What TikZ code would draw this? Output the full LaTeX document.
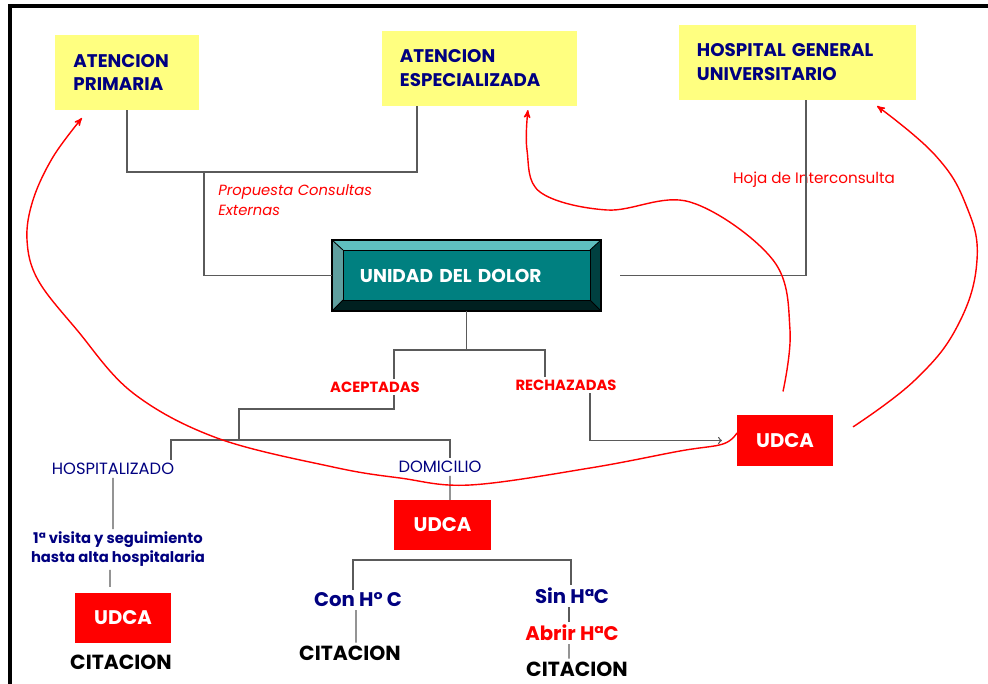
\documentclass[tikz,border=0pt]{standalone}
\usepackage{fontspec}
\setmainfont{Poppins}
\usepackage{tikz}
\usetikzlibrary{arrows}
\usetikzlibrary{backgrounds}

\definecolor{boxyellow}{RGB}{255,255,128}
\definecolor{navy}{RGB}{0,0,128}
\definecolor{udred}{RGB}{255,0,0}
\definecolor{tealface}{RGB}{0,128,128}
\definecolor{tealtop}{RGB}{95,191,191}
\definecolor{tealleft}{RGB}{95,159,159}
\definecolor{tealright}{RGB}{0,64,64}
\definecolor{tealbottom}{RGB}{0,32,32}
\definecolor{linegray}{RGB}{90,90,90}

\begin{document}
\begin{tikzpicture}[x=0.025cm,y=-0.025cm,>=stealth',
		yellow node/.style={fill=boxyellow,text=navy,align=left,inner xsep=0.45cm,
			inner ysep=0pt,minimum height=1.875cm,outer sep=0pt,
			font=\bfseries\fontsize{13}{17}\selectfont},
		dolor node/.style={text=white,align=left,text width=5.325cm,inner xsep=0.7cm,
			minimum height=1.775cm,outer sep=0pt,font=\bfseries\fontsize{13.2}{15}\selectfont},
		udca node/.style={fill=udred,text=white,minimum width=2.4cm,minimum height=1.25cm,
			outer sep=0pt,font=\bfseries\fontsize{14}{16}\selectfont},
		red label/.style={text=udred,inner sep=2pt,font=\bfseries\fontsize{10.5}{12}\selectfont},
		blue label/.style={text=navy,inner sep=2pt,font=\fontsize{11.6}{13}\selectfont},
		blue bold/.style={text=navy,inner sep=2pt,align=center,font=\bfseries\fontsize{14}{16}\selectfont},
		cita label/.style={text=black,inner sep=2pt,font=\bfseries\fontsize{14.5}{16}\selectfont},
		link/.style={draw=linegray,line width=0.9pt},
		back/.style={draw=udred,line width=1pt,->}]

	\useasboundingbox (0,0) rectangle (988,684);
	\draw[line width=2.2pt] (10,684) -- (10,6) -- (988,6);

	% top row
	\node[yellow node,text width=2.675cm] (prim) at (127,72.5) {ATENCION\\PRIMARIA};
	\node[yellow node,text width=3.975cm] (espe) at (479.5,68.5) {ATENCION\\ESPECIALIZADA};
	\node[yellow node,text width=5.025cm] (hosp) at (797.5,62.5) {HOSPITAL GENERAL\\UNIVERSITARIO};

	\node[dolor node] (dolor) at (466.5,275.5) {UNIDAD DEL DOLOR};
	\begin{scope}[on background layer]
		\fill[tealtop] (dolor.north west) rectangle (dolor.south east);
		\fill[tealleft] (dolor.north west) -- ([shift={(11,10)}]dolor.north west)
			-- ([shift={(11,-11)}]dolor.south west) -- (dolor.south west) -- cycle;
		\fill[tealright] (dolor.north east) -- ([shift={(-11,10)}]dolor.north east)
			-- ([shift={(-11,-11)}]dolor.south east) -- (dolor.south east) -- cycle;
		\fill[tealbottom] (dolor.south west) -- ([shift={(11,-11)}]dolor.south west)
			-- ([shift={(-11,-11)}]dolor.south east) -- (dolor.south east) -- cycle;
		\filldraw[fill=tealface,draw=black,line width=0.6pt] ([shift={(11,10)}]dolor.north west)
			rectangle ([shift={(-11,-11)}]dolor.south east);
		\draw[line width=0.6pt] (dolor.north west) -- ([shift={(11,10)}]dolor.north west)
			(dolor.north east) -- ([shift={(-11,10)}]dolor.north east)
			(dolor.south west) -- ([shift={(11,-11)}]dolor.south west)
			(dolor.south east) -- ([shift={(-11,-11)}]dolor.south east);
		\draw[line width=0.8pt] (dolor.north west) rectangle (dolor.south east);
	\end{scope}

	\node[text=udred,align=left,anchor=west,inner sep=0pt,font=\itshape\fontsize{10.5}{14}\selectfont]
		(propuesta) at (218,200) {Propuesta Consultas\\Externas};
	\node[text=udred,inner sep=0pt,font=\fontsize{10.8}{12}\selectfont] (hoja) at (814,180) {Hoja de Interconsulta};

	% branches
	\node[red label] (acep) at (375,387) {ACEPTADAS};
	\node[red label] (rech) at (566,385) {RECHAZADAS};
	\node[blue label] (hospi) at (113,469) {HOSPITALIZADO};
	\node[blue label] (domi) at (440,467) {DOMICILIO};
	\node[blue bold,font=\bfseries\fontsize{10.5}{13.5}\selectfont] (visita) at (118,549.5)
		{1ª visita y seguimiento\\hasta alta hospitalaria};
	\node[udca node] (udcaH) at (123,618) {UDCA};
	\node[cita label] (citaH) at (121,662) {CITACION};
	\node[udca node] (udcaD) at (442.5,525) {UDCA};
	\node[blue bold] (conhc) at (358,600) {Con H° C};
	\node[cita label] (citaC) at (350,653) {CITACION};
	\node[blue bold] (sinhc) at (572,596) {Sin HªC};
	\node[red label,font=\bfseries\fontsize{14}{16}\selectfont] (abrir) at (572,633) {Abrir HªC};
	\node[cita label] (citaS) at (577,669) {CITACION};
	\node[udca node] (udcaR) at (785,440.5) {UDCA};

	\coordinate (jtop) at (204,172);
	\coordinate (jmid) at (470,350);
	\coordinate (jacep) at (239,409);
	\coordinate (jhd) at (239,440);
	\coordinate (jbar) at (443,560);

	\draw[link] (prim.south) |- (jtop) -| ([xshift=0.875cm]espe.south west);
	\draw[link] (jtop) |- (dolor.west);
	\draw[link] ([xshift=0.475cm]dolor.east) -| ([xshift=0.215cm]hosp.south);
	\draw[link] (dolor.south) -- (dolor.south |- jmid);
	\draw[link] ([xshift=0.475cm]acep.north) |- (jmid) -| ([xshift=-0.525cm]rech.north);
	\draw[link] ([xshift=0.475cm]acep.south) |- (jacep) -- (jhd);
	\draw[link] ([xshift=1.45cm]hospi.north) |- (jhd) -| ([xshift=0.25cm]domi.north);
	\draw[link] (hospi.south) -- ([xshift=-0.125cm]visita.north);
	\draw[link,shorten >=0.15cm] ([xshift=-0.2cm]visita.south) -- ([xshift=-0.325cm]udcaH.north);
	\draw[link] ([xshift=0.25cm]domi.south) -- ([xshift=0.19cm]udcaD.north);
	\draw[link] ([xshift=-0.125cm]conhc.north) |- (jbar) -| ([xshift=-0.025cm]sinhc.north);
	\draw[link] ([xshift=-0.05cm]conhc.south) -- ([xshift=0.15cm]citaC.north);
	\draw[link] ([xshift=-0.075cm]sinhc.south) -- ([xshift=-0.075cm]abrir.north);
	\draw[link] ([xshift=-0.075cm]abrir.south) -- ([xshift=-0.2cm]citaS.north);
	\draw[link,-to,shorten >=0.375cm] ([xshift=0.6cm]rech.south) |- (udcaR.west);

	% way back
	\draw[back] plot[smooth,tension=0.6] coordinates {([xshift=-0.05cm,yshift=0.6cm]udcaR.north)
		(790,330) (773,260) (690,202) (607,210) (540,192) (527,150)
		([xshift=1.21cm,yshift=-0.1cm]espe.south)};
	\draw[back] plot[smooth,tension=0.7] coordinates {([xshift=0.5cm,yshift=0.34cm]udcaR.east)
		(915,380) (958,325) (977,260) (966,205) (935,155)
		([xshift=-0.975cm,yshift=-0.15cm]hosp.south east)};
	\draw[back] plot[smooth,tension=0.6] coordinates {([yshift=0.19cm]udcaR.west)
		(723,444) (680,451) (590,468) (470,485) (400,478) (333,467) (217,438)
		(133,393) (77,330) (38,280) (27,240) (33,200) (53,157)
		([xshift=0.66cm,yshift=-0.2cm]prim.south west)};
\end{tikzpicture}
\end{document}
